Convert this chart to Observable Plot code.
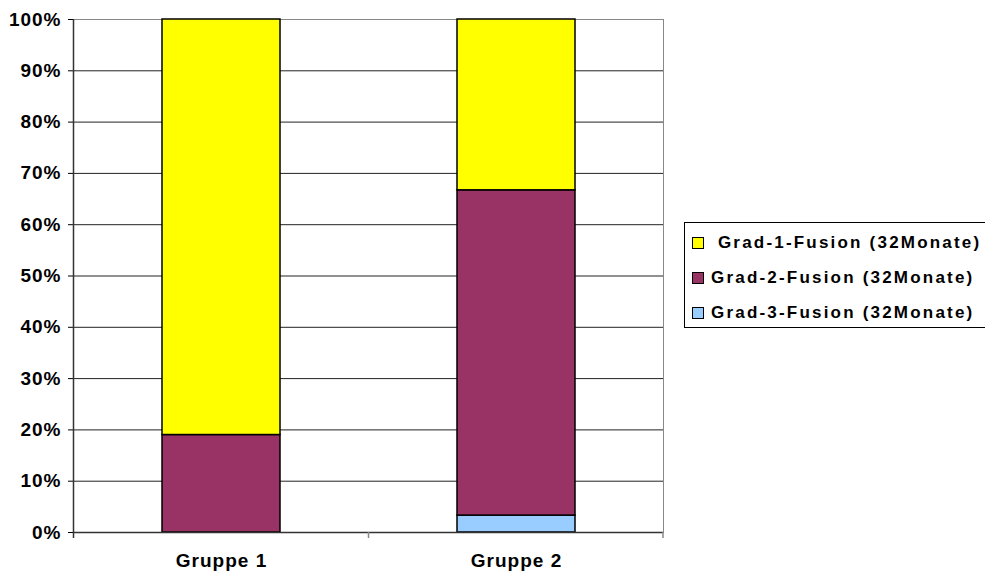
<!DOCTYPE html>
<html>
<head>
<meta charset="utf-8">
<script src="https://cdn.jsdelivr.net/npm/d3@7"></script>
<script src="https://cdn.jsdelivr.net/npm/@observablehq/plot@0.6"></script>
<style>
  html, body { margin: 0; padding: 0; background: #fff; overflow: hidden; }
  #wrap { position: relative; width: 985px; height: 575px; font-family: "Liberation Sans", Arial, sans-serif; }
  #legend { position: absolute; left: 684px; top: 222px; width: 320px; height: 106px; border: 1px solid #000; box-sizing: border-box; background: #fff; }
  .item { position: absolute; left: 7px; height: 16px; display: flex; align-items: center; font-weight: bold; font-size: 17px; letter-spacing: 2.2px; color: #000; white-space: pre; }
  .sw { width: 10px; height: 10px; border: 1px solid #000; margin-right: 7px; flex: none; }
</style>
</head>
<body>
<div id="wrap"><div id="chart"></div><div id="legend"></div></div>
<script>
const categories = ["Gruppe 1", "Gruppe 2"];
const seriesNames = ["Grad-1-Fusion (32Monate)", "Grad-2-Fusion (32Monate)", "Grad-3-Fusion (32Monate)"];
const seriesColors = ["#FFFF00", "#993366", "#99CCFF"];
const grad1 = [81, 33.3];
const grad2 = [19, 63.4];
const grad3 = [0, 3.3];
const yTicks = [0, 10, 20, 30, 40, 50, 60, 70, 80, 90, 100];

const seriesValues = [grad1, grad2, grad3];
// stack order: Grad-3 at bottom, Grad-1 on top
const rows = [];
[2, 1, 0].forEach(s => {
  categories.forEach((c, i) => rows.push({cat: c, series: seriesNames[s], value: seriesValues[s][i]}));
});

const font = {fontFamily: "'Liberation Sans', Arial, sans-serif", fontWeight: "bold", fontSize: "19px", letterSpacing: "1px"};

const plot = Plot.plot({
  width: 985,
  height: 575,
  marginLeft: 73,
  marginRight: 322,
  marginTop: 19,
  marginBottom: 43,
  style: {background: "#fff", color: "#000", ...font},
  x: {domain: categories, paddingInner: 0.6, paddingOuter: 0.3, label: null},
  y: {domain: [0, 100], label: null},
  color: {domain: seriesNames, range: seriesColors},
  marks: [
    Plot.frame({stroke: "#888"}),
    Plot.gridY(yTicks.slice(1, -1), {stroke: "#222", strokeOpacity: 1}),
    Plot.barY(rows, Plot.stackY({x: "cat", y: "value", fill: "series", stroke: "#000", strokeWidth: 1.5})),
    Plot.ruleY([0], {stroke: "#333", strokeWidth: 1.5}),
    Plot.axisY({ticks: yTicks, tickFormat: d => d + "%", tickSize: 5, tickPadding: 7, label: null, fontSize: 19, fontWeight: "bold"}),
    Plot.axisX({tickSize: 0, tickPadding: 21, label: null, fontSize: 19, fontWeight: "bold"})
  ]
});
document.getElementById("chart").appendChild(plot);

// Axis line on the left and boundary ticks between categories, from the library's x scale
const sx = plot.scale("x");
const sy = plot.scale("y");
const svg = d3.select(plot);
const y0 = sy.apply(0), y100 = sy.apply(100);
const x0 = sx.range[0], x1 = sx.range[1];
const step = sx.step;
const g = svg.append("g").attr("stroke", "#333").attr("stroke-width", 1.5);
g.append("line").attr("x1", x0 + 0.5).attr("x2", x0 + 0.5).attr("y1", y100).attr("y2", y0 + 6);
const bounds = categories.map(c => sx.apply(c) + sx.bandwidth / 2 - step / 2);
bounds.push(x1);
bounds.slice(1).forEach(b => {
  g.append("line").attr("x1", b).attr("x2", b).attr("y1", y0).attr("y2", y0 + 6).attr("stroke", "#888");
});

// Legend
const legend = document.getElementById("legend");
seriesNames.forEach((name, i) => {
  const it = document.createElement("div");
  it.className = "item";
  it.style.top = (12 + i * 35) + "px";
  const sw = document.createElement("span");
  sw.className = "sw";
  sw.style.background = seriesColors[i];
  const tx = document.createElement("span");
  tx.textContent = (i === 0 ? " " : "") + name;
  it.appendChild(sw);
  it.appendChild(tx);
  legend.appendChild(it);
});
</script>
</body>
</html>
